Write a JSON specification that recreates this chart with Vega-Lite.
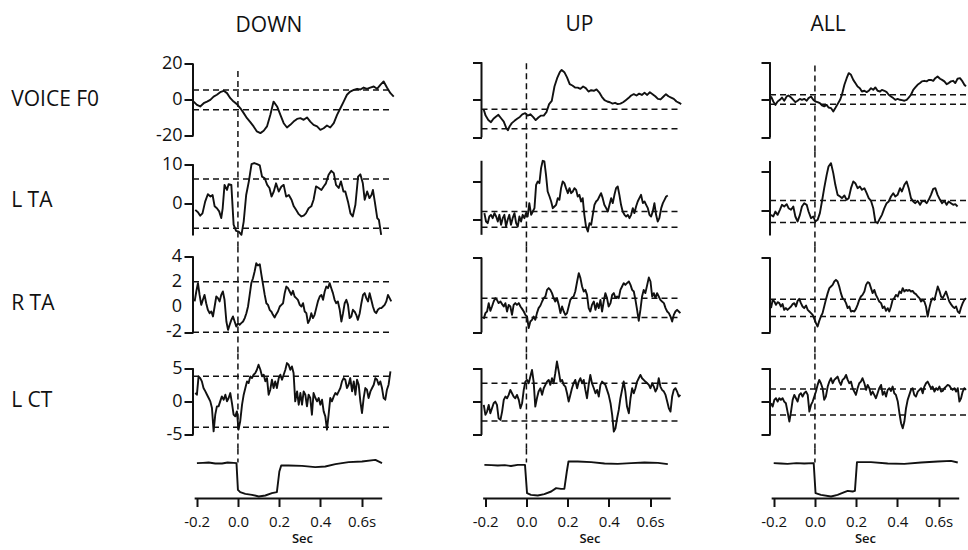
{
"$schema":"https://vega.github.io/schema/vega-lite/v6.json",
"padding":{"left":10,"top":13.5,"right":0,"bottom":0},
"background":"white",
"config":{
 "font":"Open Sans",
 "view":{"stroke":null},
 "axis":{"domain":false,"grid":false,"tickColor":"#111","tickWidth":2,"labelColor":"#111","titleColor":"#111","labelFont":"Open Sans","titleFont":"Open Sans","labelOverlap":false,"labelBound":false,"labelFlush":false},
 "axisY":{"tickSize":9,"labelFontSize":18,"labelPadding":2,"labelOverlap":false,"titleAngle":0,"titleAlign":"left","titleBaseline":"middle","titleX":-182.3,"titleFontSize":21,"titleFontWeight":"normal","labelExpr":"datum.value < 0 ? '-' + abs(datum.value) : '' + datum.value"},
 "axisX":{"tickSize":8,"labelFontSize":15,"labelPadding":8,"titleFontSize":13,"titleFontWeight":600,"titlePadding":3,"labelExpr":"datum.value == 0.6 ? '0.6s' : (datum.value < 0 ? '-' : '') + format(abs(datum.value), '.1f')"}
},
"datasets":{
"Df":[{"t":-0.215,"v":-1.0},{"t":-0.199,"v":-2.8},{"t":-0.183,"v":-3.7},{"t":-0.166,"v":-1.9},{"t":-0.15,"v":-1.0},{"t":-0.134,"v":0.0},{"t":-0.118,"v":1.8},{"t":-0.102,"v":2.8},{"t":-0.086,"v":4.2},{"t":-0.069,"v":5.0},{"t":-0.053,"v":3.7},{"t":-0.037,"v":0.9},{"t":-0.021,"v":-1.0},{"t":-0.005,"v":-2.4},{"t":0.012,"v":-4.7},{"t":0.028,"v":-7.4},{"t":0.044,"v":-10.2},{"t":0.06,"v":-12.4},{"t":0.076,"v":-14.8},{"t":0.092,"v":-17.6},{"t":0.109,"v":-18.5},{"t":0.125,"v":-17.2},{"t":0.141,"v":-14.8},{"t":0.157,"v":-8.4},{"t":0.173,"v":-1.0},{"t":0.19,"v":-3.7},{"t":0.206,"v":-8.4},{"t":0.222,"v":-13.0},{"t":0.238,"v":-15.4},{"t":0.254,"v":-13.9},{"t":0.27,"v":-12.1},{"t":0.287,"v":-10.6},{"t":0.303,"v":-10.2},{"t":0.319,"v":-11.1},{"t":0.335,"v":-9.8},{"t":0.351,"v":-12.1},{"t":0.367,"v":-13.9},{"t":0.384,"v":-14.8},{"t":0.4,"v":-16.7},{"t":0.416,"v":-15.8},{"t":0.432,"v":-14.3},{"t":0.448,"v":-15.4},{"t":0.465,"v":-13.0},{"t":0.481,"v":-8.4},{"t":0.497,"v":-4.7},{"t":0.513,"v":-1.0},{"t":0.529,"v":2.8},{"t":0.545,"v":4.6},{"t":0.562,"v":5.5},{"t":0.578,"v":6.1},{"t":0.594,"v":5.7},{"t":0.61,"v":6.8},{"t":0.626,"v":6.1},{"t":0.642,"v":6.8},{"t":0.659,"v":7.4},{"t":0.675,"v":6.1},{"t":0.691,"v":8.3},{"t":0.707,"v":10.2},{"t":0.723,"v":6.8},{"t":0.74,"v":3.7},{"t":0.756,"v":1.8}],
"Dl":[{"t":-0.207,"v":-1.7},{"t":-0.194,"v":-2.3},{"t":-0.183,"v":-3.2},{"t":-0.172,"v":-2.6},{"t":-0.159,"v":0.4},{"t":-0.146,"v":2.3},{"t":-0.133,"v":1.7},{"t":-0.123,"v":2.1},{"t":-0.113,"v":-0.8},{"t":-0.102,"v":-1.3},{"t":-0.091,"v":-2.1},{"t":-0.081,"v":-3.8},{"t":-0.074,"v":-1.3},{"t":-0.065,"v":4.7},{"t":-0.053,"v":3.4},{"t":-0.045,"v":4.9},{"t":-0.032,"v":4.7},{"t":-0.021,"v":-5.5},{"t":-0.009,"v":-7.1},{"t":0.004,"v":-7.3},{"t":0.017,"v":-8.1},{"t":0.028,"v":-4.7},{"t":0.04,"v":2.1},{"t":0.053,"v":5.6},{"t":0.066,"v":10.0},{"t":0.079,"v":10.3},{"t":0.093,"v":10.0},{"t":0.106,"v":9.7},{"t":0.117,"v":6.8},{"t":0.13,"v":6.4},{"t":0.142,"v":4.7},{"t":0.153,"v":3.9},{"t":0.163,"v":1.7},{"t":0.174,"v":3.0},{"t":0.185,"v":5.1},{"t":0.198,"v":3.0},{"t":0.211,"v":4.3},{"t":0.222,"v":4.7},{"t":0.234,"v":1.7},{"t":0.247,"v":2.1},{"t":0.26,"v":0.9},{"t":0.271,"v":-0.8},{"t":0.282,"v":-1.7},{"t":0.295,"v":-2.8},{"t":0.308,"v":-3.4},{"t":0.319,"v":-3.2},{"t":0.33,"v":-2.6},{"t":0.343,"v":-1.3},{"t":0.356,"v":-0.8},{"t":0.367,"v":0.9},{"t":0.379,"v":4.3},{"t":0.392,"v":3.9},{"t":0.405,"v":3.4},{"t":0.416,"v":4.3},{"t":0.427,"v":5.1},{"t":0.44,"v":7.3},{"t":0.453,"v":8.3},{"t":0.465,"v":7.7},{"t":0.476,"v":4.7},{"t":0.489,"v":3.9},{"t":0.5,"v":5.6},{"t":0.512,"v":3.0},{"t":0.521,"v":3.0},{"t":0.534,"v":0.4},{"t":0.546,"v":-2.6},{"t":0.557,"v":-3.4},{"t":0.57,"v":-0.4},{"t":0.583,"v":6.8},{"t":0.594,"v":7.4},{"t":0.606,"v":5.1},{"t":0.615,"v":0.9},{"t":0.627,"v":3.0},{"t":0.638,"v":1.3},{"t":0.648,"v":2.1},{"t":0.655,"v":3.4},{"t":0.664,"v":0.4},{"t":0.676,"v":-3.8},{"t":0.684,"v":-4.3},{"t":0.695,"v":-8.1}],
"Dr":[{"t":-0.21,"v":0.44},{"t":-0.202,"v":1.23},{"t":-0.194,"v":1.89},{"t":-0.186,"v":0.96},{"t":-0.178,"v":0.17},{"t":-0.17,"v":0.57},{"t":-0.162,"v":0.96},{"t":-0.154,"v":0.3},{"t":-0.146,"v":-0.22},{"t":-0.137,"v":-0.49},{"t":-0.129,"v":-0.36},{"t":-0.121,"v":-0.75},{"t":-0.113,"v":0.04},{"t":-0.105,"v":0.83},{"t":-0.097,"v":0.7},{"t":-0.089,"v":0.44},{"t":-0.081,"v":0.96},{"t":-0.073,"v":1.23},{"t":-0.065,"v":0.57},{"t":-0.056,"v":-1.15},{"t":-0.048,"v":-1.81},{"t":-0.04,"v":-1.41},{"t":-0.032,"v":-1.02},{"t":-0.024,"v":-0.75},{"t":-0.016,"v":-1.15},{"t":-0.008,"v":-1.55},{"t":0.0,"v":-1.28},{"t":0.008,"v":-1.41},{"t":0.016,"v":-1.28},{"t":0.025,"v":-1.15},{"t":0.033,"v":-0.88},{"t":0.041,"v":-0.49},{"t":0.049,"v":0.04},{"t":0.057,"v":0.96},{"t":0.065,"v":1.89},{"t":0.073,"v":2.28},{"t":0.081,"v":2.81},{"t":0.089,"v":3.47},{"t":0.097,"v":3.29},{"t":0.106,"v":3.39},{"t":0.114,"v":2.55},{"t":0.122,"v":1.76},{"t":0.13,"v":0.96},{"t":0.138,"v":0.3},{"t":0.146,"v":0.17},{"t":0.154,"v":-0.22},{"t":0.162,"v":-0.36},{"t":0.17,"v":-0.62},{"t":0.178,"v":-0.83},{"t":0.186,"v":-0.57},{"t":0.194,"v":-0.36},{"t":0.203,"v":0.04},{"t":0.211,"v":0.17},{"t":0.219,"v":0.3},{"t":0.227,"v":1.1},{"t":0.235,"v":1.62},{"t":0.243,"v":1.49},{"t":0.251,"v":1.23},{"t":0.259,"v":0.96},{"t":0.267,"v":1.28},{"t":0.275,"v":0.83},{"t":0.283,"v":0.7},{"t":0.291,"v":0.57},{"t":0.3,"v":0.17},{"t":0.308,"v":0.04},{"t":0.316,"v":0.3},{"t":0.324,"v":-0.36},{"t":0.332,"v":-0.49},{"t":0.34,"v":-1.28},{"t":0.348,"v":-1.02},{"t":0.356,"v":-0.49},{"t":0.364,"v":-0.88},{"t":0.372,"v":-0.62},{"t":0.38,"v":-0.09},{"t":0.388,"v":0.44},{"t":0.397,"v":0.83},{"t":0.405,"v":0.96},{"t":0.413,"v":0.57},{"t":0.421,"v":1.23},{"t":0.429,"v":1.62},{"t":0.437,"v":1.49},{"t":0.445,"v":1.89},{"t":0.453,"v":1.49},{"t":0.461,"v":1.1},{"t":0.469,"v":0.57},{"t":0.477,"v":0.3},{"t":0.485,"v":0.44},{"t":0.494,"v":-0.22},{"t":0.502,"v":-1.15},{"t":0.51,"v":-0.49},{"t":0.518,"v":0.3},{"t":0.526,"v":0.57},{"t":0.534,"v":0.17},{"t":0.542,"v":-0.88},{"t":0.55,"v":-0.75},{"t":0.558,"v":-0.22},{"t":0.566,"v":-0.36},{"t":0.574,"v":-0.62},{"t":0.582,"v":-1.02},{"t":0.591,"v":-0.49},{"t":0.599,"v":0.3},{"t":0.607,"v":0.96},{"t":0.615,"v":1.1},{"t":0.623,"v":0.7},{"t":0.631,"v":0.44},{"t":0.639,"v":1.1},{"t":0.647,"v":0.57},{"t":0.655,"v":0.04},{"t":0.663,"v":-0.36},{"t":0.671,"v":-0.49},{"t":0.679,"v":-0.22},{"t":0.688,"v":-0.09},{"t":0.696,"v":-0.09},{"t":0.704,"v":0.04},{"t":0.712,"v":0.17},{"t":0.72,"v":0.44},{"t":0.728,"v":0.96},{"t":0.736,"v":0.7},{"t":0.744,"v":0.44}],
"Dc":[{"t":-0.207,"v":1.27},{"t":-0.199,"v":1.02},{"t":-0.191,"v":3.77},{"t":-0.183,"v":3.52},{"t":-0.175,"v":3.02},{"t":-0.167,"v":2.02},{"t":-0.158,"v":1.52},{"t":-0.15,"v":1.02},{"t":-0.142,"v":0.52},{"t":-0.134,"v":0.02},{"t":-0.126,"v":-0.98},{"t":-0.118,"v":-4.48},{"t":-0.11,"v":-1.98},{"t":-0.102,"v":-0.73},{"t":-0.094,"v":-0.73},{"t":-0.086,"v":0.02},{"t":-0.078,"v":0.77},{"t":-0.069,"v":0.27},{"t":-0.061,"v":1.02},{"t":-0.053,"v":0.02},{"t":-0.045,"v":0.52},{"t":-0.037,"v":1.27},{"t":-0.029,"v":-0.23},{"t":-0.021,"v":-1.98},{"t":-0.013,"v":-2.23},{"t":-0.005,"v":-1.48},{"t":0.003,"v":-4.23},{"t":0.011,"v":-2.98},{"t":0.02,"v":-0.48},{"t":0.028,"v":1.02},{"t":0.036,"v":2.02},{"t":0.044,"v":3.02},{"t":0.052,"v":2.77},{"t":0.06,"v":3.77},{"t":0.068,"v":3.52},{"t":0.076,"v":4.02},{"t":0.084,"v":4.27},{"t":0.092,"v":4.77},{"t":0.1,"v":5.52},{"t":0.109,"v":4.77},{"t":0.117,"v":3.77},{"t":0.125,"v":4.02},{"t":0.133,"v":3.02},{"t":0.141,"v":3.52},{"t":0.149,"v":1.02},{"t":0.157,"v":1.77},{"t":0.165,"v":3.27},{"t":0.173,"v":2.02},{"t":0.181,"v":3.02},{"t":0.189,"v":2.02},{"t":0.198,"v":3.52},{"t":0.206,"v":4.02},{"t":0.214,"v":3.27},{"t":0.222,"v":4.02},{"t":0.23,"v":4.77},{"t":0.238,"v":5.77},{"t":0.246,"v":5.52},{"t":0.254,"v":4.77},{"t":0.262,"v":5.27},{"t":0.27,"v":4.27},{"t":0.278,"v":0.02},{"t":0.287,"v":1.52},{"t":0.295,"v":-0.48},{"t":0.303,"v":1.27},{"t":0.311,"v":-0.48},{"t":0.319,"v":1.52},{"t":0.327,"v":1.02},{"t":0.335,"v":-0.73},{"t":0.343,"v":1.02},{"t":0.351,"v":0.52},{"t":0.359,"v":-1.98},{"t":0.367,"v":1.27},{"t":0.376,"v":0.52},{"t":0.384,"v":0.02},{"t":0.392,"v":0.52},{"t":0.4,"v":-0.48},{"t":0.408,"v":0.27},{"t":0.416,"v":-1.48},{"t":0.424,"v":-2.23},{"t":0.432,"v":-4.23},{"t":0.44,"v":-1.98},{"t":0.448,"v":0.52},{"t":0.456,"v":0.02},{"t":0.465,"v":0.77},{"t":0.473,"v":1.27},{"t":0.481,"v":1.02},{"t":0.489,"v":1.52},{"t":0.497,"v":2.02},{"t":0.505,"v":3.02},{"t":0.513,"v":3.52},{"t":0.521,"v":3.27},{"t":0.529,"v":2.02},{"t":0.537,"v":2.52},{"t":0.545,"v":3.52},{"t":0.554,"v":1.52},{"t":0.562,"v":3.02},{"t":0.57,"v":1.02},{"t":0.578,"v":3.27},{"t":0.586,"v":2.52},{"t":0.594,"v":0.02},{"t":0.602,"v":-1.73},{"t":0.61,"v":0.52},{"t":0.618,"v":2.02},{"t":0.626,"v":1.77},{"t":0.634,"v":0.52},{"t":0.643,"v":1.52},{"t":0.651,"v":2.02},{"t":0.659,"v":2.52},{"t":0.667,"v":3.52},{"t":0.675,"v":3.27},{"t":0.683,"v":2.52},{"t":0.691,"v":3.02},{"t":0.699,"v":2.02},{"t":0.707,"v":0.52},{"t":0.715,"v":0.27},{"t":0.723,"v":1.77},{"t":0.731,"v":2.52},{"t":0.74,"v":4.52}],
"Ds":[{"t":-0.199,"v":0.707},{"t":-0.17,"v":0.713},{"t":-0.142,"v":0.72},{"t":-0.11,"v":0.7},{"t":-0.077,"v":0.7},{"t":-0.05,"v":0.72},{"t":-0.021,"v":0.713},{"t":-0.007,"v":0.707},{"t":0.0,"v":0.173},{"t":0.011,"v":0.127},{"t":0.036,"v":0.093},{"t":0.068,"v":0.073},{"t":0.101,"v":0.04},{"t":0.133,"v":0.06},{"t":0.165,"v":0.107},{"t":0.189,"v":0.127},{"t":0.201,"v":0.54},{"t":0.21,"v":0.66},{"t":0.246,"v":0.66},{"t":0.311,"v":0.653},{"t":0.375,"v":0.627},{"t":0.424,"v":0.64},{"t":0.473,"v":0.687},{"t":0.537,"v":0.727},{"t":0.602,"v":0.74},{"t":0.667,"v":0.773},{"t":0.699,"v":0.707}],
"Uf":[{"t":-0.207,"v":-5.3},{"t":-0.198,"v":-8.4},{"t":-0.185,"v":-10.7},{"t":-0.172,"v":-11.9},{"t":-0.16,"v":-10.1},{"t":-0.147,"v":-8.9},{"t":-0.136,"v":-8.0},{"t":-0.123,"v":-9.8},{"t":-0.11,"v":-11.6},{"t":-0.099,"v":-14.7},{"t":-0.09,"v":-16.2},{"t":-0.082,"v":-14.2},{"t":-0.071,"v":-12.4},{"t":-0.058,"v":-11.2},{"t":-0.045,"v":-10.1},{"t":-0.032,"v":-9.1},{"t":-0.02,"v":-7.7},{"t":-0.006,"v":-7.1},{"t":0.006,"v":-8.4},{"t":0.019,"v":-7.7},{"t":0.032,"v":-9.1},{"t":0.045,"v":-10.8},{"t":0.058,"v":-9.4},{"t":0.071,"v":-8.4},{"t":0.084,"v":-8.4},{"t":0.097,"v":-6.6},{"t":0.11,"v":-2.3},{"t":0.123,"v":-0.6},{"t":0.136,"v":7.1},{"t":0.149,"v":11.5},{"t":0.162,"v":14.7},{"t":0.171,"v":15.9},{"t":0.184,"v":14.7},{"t":0.197,"v":11.9},{"t":0.21,"v":8.3},{"t":0.223,"v":7.6},{"t":0.236,"v":6.5},{"t":0.249,"v":6.5},{"t":0.262,"v":5.8},{"t":0.275,"v":7.1},{"t":0.288,"v":6.2},{"t":0.301,"v":4.4},{"t":0.314,"v":5.1},{"t":0.327,"v":4.8},{"t":0.34,"v":5.5},{"t":0.353,"v":4.0},{"t":0.366,"v":1.6},{"t":0.379,"v":-0.2},{"t":0.392,"v":-0.9},{"t":0.405,"v":-1.3},{"t":0.418,"v":-2.0},{"t":0.43,"v":-1.6},{"t":0.443,"v":-2.3},{"t":0.456,"v":-2.0},{"t":0.469,"v":-1.3},{"t":0.482,"v":-0.2},{"t":0.495,"v":0.9},{"t":0.508,"v":2.3},{"t":0.521,"v":3.0},{"t":0.534,"v":2.3},{"t":0.547,"v":3.3},{"t":0.56,"v":2.6},{"t":0.573,"v":3.7},{"t":0.586,"v":2.6},{"t":0.599,"v":4.0},{"t":0.612,"v":3.0},{"t":0.625,"v":1.9},{"t":0.638,"v":0.5},{"t":0.651,"v":0.2},{"t":0.664,"v":1.6},{"t":0.677,"v":3.0},{"t":0.689,"v":1.9},{"t":0.702,"v":1.2},{"t":0.715,"v":0.5},{"t":0.728,"v":-0.9},{"t":0.741,"v":-1.6},{"t":0.751,"v":-2.3}],
"Ul":[{"t":-0.204,"v":1.61},{"t":-0.196,"v":-0.61},{"t":-0.188,"v":-1.05},{"t":-0.18,"v":0.72},{"t":-0.172,"v":1.16},{"t":-0.164,"v":0.28},{"t":-0.155,"v":1.61},{"t":-0.147,"v":0.72},{"t":-0.139,"v":-0.61},{"t":-0.131,"v":1.16},{"t":-0.123,"v":-1.49},{"t":-0.115,"v":0.28},{"t":-0.107,"v":1.16},{"t":-0.099,"v":-1.93},{"t":-0.091,"v":-0.16},{"t":-0.083,"v":1.16},{"t":-0.075,"v":-1.49},{"t":-0.067,"v":0.28},{"t":-0.058,"v":1.61},{"t":-0.05,"v":-1.05},{"t":-0.042,"v":-1.93},{"t":-0.034,"v":0.72},{"t":-0.026,"v":-0.61},{"t":-0.018,"v":1.16},{"t":-0.01,"v":0.28},{"t":-0.002,"v":1.61},{"t":0.006,"v":0.72},{"t":0.014,"v":4.26},{"t":0.023,"v":1.16},{"t":0.031,"v":2.05},{"t":0.039,"v":2.93},{"t":0.047,"v":9.12},{"t":0.055,"v":10.0},{"t":0.063,"v":9.56},{"t":0.071,"v":13.54},{"t":0.079,"v":15.49},{"t":0.087,"v":15.31},{"t":0.095,"v":11.77},{"t":0.103,"v":7.35},{"t":0.112,"v":6.03},{"t":0.12,"v":4.7},{"t":0.128,"v":2.93},{"t":0.136,"v":3.37},{"t":0.144,"v":3.82},{"t":0.152,"v":5.58},{"t":0.16,"v":5.14},{"t":0.168,"v":8.24},{"t":0.176,"v":10.0},{"t":0.184,"v":9.56},{"t":0.192,"v":8.24},{"t":0.201,"v":6.91},{"t":0.209,"v":8.24},{"t":0.217,"v":6.91},{"t":0.225,"v":7.35},{"t":0.233,"v":8.24},{"t":0.241,"v":7.79},{"t":0.249,"v":6.03},{"t":0.257,"v":6.47},{"t":0.265,"v":4.7},{"t":0.273,"v":5.58},{"t":0.281,"v":1.16},{"t":0.289,"v":-1.93},{"t":0.298,"v":-3.26},{"t":0.306,"v":-1.05},{"t":0.314,"v":-1.49},{"t":0.322,"v":1.16},{"t":0.33,"v":3.82},{"t":0.338,"v":4.7},{"t":0.346,"v":5.14},{"t":0.354,"v":6.03},{"t":0.362,"v":6.91},{"t":0.37,"v":5.58},{"t":0.378,"v":3.82},{"t":0.387,"v":2.93},{"t":0.395,"v":2.05},{"t":0.403,"v":3.82},{"t":0.411,"v":5.58},{"t":0.419,"v":4.26},{"t":0.427,"v":6.47},{"t":0.435,"v":8.24},{"t":0.443,"v":8.68},{"t":0.451,"v":6.47},{"t":0.459,"v":3.82},{"t":0.467,"v":2.05},{"t":0.476,"v":1.16},{"t":0.484,"v":0.72},{"t":0.492,"v":1.16},{"t":0.5,"v":0.28},{"t":0.508,"v":1.16},{"t":0.516,"v":2.93},{"t":0.524,"v":1.61},{"t":0.532,"v":3.37},{"t":0.54,"v":4.7},{"t":0.548,"v":5.58},{"t":0.556,"v":6.47},{"t":0.565,"v":4.26},{"t":0.573,"v":4.7},{"t":0.581,"v":3.82},{"t":0.589,"v":2.93},{"t":0.597,"v":1.16},{"t":0.605,"v":0.72},{"t":0.613,"v":2.05},{"t":0.621,"v":4.26},{"t":0.629,"v":1.16},{"t":0.637,"v":-0.61},{"t":0.645,"v":0.28},{"t":0.654,"v":2.93},{"t":0.662,"v":4.26},{"t":0.67,"v":5.14},{"t":0.678,"v":6.03},{"t":0.686,"v":6.29}],
"Ur":[{"t":-0.207,"v":-0.91},{"t":-0.199,"v":-0.45},{"t":-0.191,"v":-0.32},{"t":-0.183,"v":0.35},{"t":-0.175,"v":-0.27},{"t":-0.167,"v":0.08},{"t":-0.159,"v":0.48},{"t":-0.151,"v":0.75},{"t":-0.143,"v":0.61},{"t":-0.135,"v":0.35},{"t":-0.126,"v":0.48},{"t":-0.118,"v":0.27},{"t":-0.11,"v":0.08},{"t":-0.102,"v":0.35},{"t":-0.094,"v":-0.32},{"t":-0.086,"v":0.21},{"t":-0.078,"v":0.08},{"t":-0.07,"v":-0.59},{"t":-0.062,"v":0.21},{"t":-0.054,"v":0.35},{"t":-0.046,"v":0.21},{"t":-0.037,"v":0.35},{"t":-0.029,"v":0.08},{"t":-0.021,"v":-0.11},{"t":-0.013,"v":-0.32},{"t":-0.005,"v":-0.59},{"t":0.003,"v":-0.72},{"t":0.011,"v":-1.65},{"t":0.019,"v":-1.12},{"t":0.027,"v":-0.99},{"t":0.035,"v":-0.72},{"t":0.043,"v":-0.99},{"t":0.051,"v":-0.45},{"t":0.059,"v":-0.05},{"t":0.068,"v":0.16},{"t":0.076,"v":0.48},{"t":0.084,"v":0.75},{"t":0.092,"v":0.88},{"t":0.1,"v":1.41},{"t":0.108,"v":1.55},{"t":0.116,"v":1.41},{"t":0.124,"v":1.15},{"t":0.132,"v":0.75},{"t":0.14,"v":0.48},{"t":0.148,"v":0.75},{"t":0.157,"v":0.21},{"t":0.165,"v":-0.45},{"t":0.173,"v":0.08},{"t":0.181,"v":-0.32},{"t":0.189,"v":-0.59},{"t":0.197,"v":-0.45},{"t":0.205,"v":0.08},{"t":0.213,"v":0.61},{"t":0.221,"v":0.8},{"t":0.229,"v":0.88},{"t":0.237,"v":1.28},{"t":0.246,"v":2.08},{"t":0.254,"v":2.75},{"t":0.262,"v":2.35},{"t":0.27,"v":1.68},{"t":0.278,"v":1.28},{"t":0.286,"v":1.41},{"t":0.294,"v":1.01},{"t":0.302,"v":-0.05},{"t":0.31,"v":-0.32},{"t":0.318,"v":0.21},{"t":0.327,"v":0.48},{"t":0.335,"v":-0.19},{"t":0.343,"v":0.35},{"t":0.351,"v":-0.05},{"t":0.359,"v":0.61},{"t":0.367,"v":-0.32},{"t":0.375,"v":0.48},{"t":0.383,"v":1.15},{"t":0.391,"v":0.75},{"t":0.399,"v":0.08},{"t":0.408,"v":0.35},{"t":0.416,"v":1.01},{"t":0.424,"v":1.15},{"t":0.432,"v":0.75},{"t":0.44,"v":0.88},{"t":0.448,"v":0.75},{"t":0.456,"v":1.41},{"t":0.464,"v":1.68},{"t":0.472,"v":1.95},{"t":0.48,"v":1.81},{"t":0.488,"v":1.95},{"t":0.497,"v":2.08},{"t":0.505,"v":1.81},{"t":0.513,"v":1.41},{"t":0.521,"v":1.28},{"t":0.529,"v":0.61},{"t":0.537,"v":-0.19},{"t":0.545,"v":-1.07},{"t":0.553,"v":-0.19},{"t":0.561,"v":0.88},{"t":0.569,"v":1.41},{"t":0.577,"v":1.15},{"t":0.586,"v":1.81},{"t":0.594,"v":2.4},{"t":0.602,"v":2.08},{"t":0.61,"v":0.88},{"t":0.618,"v":1.15},{"t":0.626,"v":0.75},{"t":0.634,"v":1.15},{"t":0.642,"v":0.88},{"t":0.65,"v":0.61},{"t":0.658,"v":0.48},{"t":0.667,"v":0.35},{"t":0.675,"v":-0.05},{"t":0.683,"v":-0.32},{"t":0.691,"v":-0.45},{"t":0.699,"v":-0.72},{"t":0.707,"v":-1.12},{"t":0.715,"v":-0.59},{"t":0.723,"v":-0.32},{"t":0.731,"v":-0.19},{"t":0.739,"v":-0.32},{"t":0.747,"v":-0.45}],
"Uc":[{"t":-0.207,"v":-0.51},{"t":-0.199,"v":-2.01},{"t":-0.191,"v":-1.51},{"t":-0.183,"v":-0.51},{"t":-0.175,"v":-1.76},{"t":-0.167,"v":-1.01},{"t":-0.159,"v":-0.26},{"t":-0.151,"v":-0.01},{"t":-0.143,"v":-0.51},{"t":-0.135,"v":-2.51},{"t":-0.126,"v":-2.76},{"t":-0.118,"v":-1.51},{"t":-0.11,"v":0.24},{"t":-0.102,"v":0.74},{"t":-0.094,"v":0.49},{"t":-0.086,"v":0.99},{"t":-0.078,"v":1.74},{"t":-0.07,"v":1.24},{"t":-0.062,"v":0.74},{"t":-0.054,"v":0.49},{"t":-0.046,"v":0.99},{"t":-0.037,"v":0.24},{"t":-0.029,"v":-1.01},{"t":-0.021,"v":-0.26},{"t":-0.013,"v":1.74},{"t":-0.005,"v":2.99},{"t":0.003,"v":3.24},{"t":0.011,"v":2.74},{"t":0.019,"v":3.74},{"t":0.027,"v":4.74},{"t":0.035,"v":2.99},{"t":0.043,"v":-0.76},{"t":0.051,"v":0.49},{"t":0.059,"v":1.49},{"t":0.068,"v":1.99},{"t":0.076,"v":0.99},{"t":0.084,"v":1.99},{"t":0.092,"v":2.49},{"t":0.1,"v":2.99},{"t":0.108,"v":3.24},{"t":0.116,"v":2.49},{"t":0.124,"v":3.49},{"t":0.132,"v":2.74},{"t":0.14,"v":4.24},{"t":0.148,"v":5.99},{"t":0.157,"v":4.49},{"t":0.165,"v":2.99},{"t":0.173,"v":3.24},{"t":0.181,"v":2.49},{"t":0.189,"v":2.24},{"t":0.197,"v":1.24},{"t":0.205,"v":-0.01},{"t":0.213,"v":0.99},{"t":0.221,"v":1.99},{"t":0.229,"v":2.74},{"t":0.237,"v":3.24},{"t":0.246,"v":1.99},{"t":0.254,"v":2.99},{"t":0.262,"v":3.49},{"t":0.27,"v":2.74},{"t":0.278,"v":3.24},{"t":0.286,"v":1.74},{"t":0.294,"v":0.49},{"t":0.302,"v":2.49},{"t":0.31,"v":3.99},{"t":0.318,"v":2.74},{"t":0.327,"v":1.99},{"t":0.335,"v":1.24},{"t":0.343,"v":1.74},{"t":0.351,"v":0.74},{"t":0.359,"v":2.49},{"t":0.367,"v":2.99},{"t":0.375,"v":2.74},{"t":0.383,"v":2.49},{"t":0.391,"v":1.74},{"t":0.399,"v":0.99},{"t":0.408,"v":-0.26},{"t":0.416,"v":-2.01},{"t":0.424,"v":-4.51},{"t":0.432,"v":-4.01},{"t":0.44,"v":-2.51},{"t":0.448,"v":-1.26},{"t":0.456,"v":0.49},{"t":0.464,"v":1.74},{"t":0.472,"v":2.99},{"t":0.48,"v":1.49},{"t":0.488,"v":-0.76},{"t":0.497,"v":-1.76},{"t":0.505,"v":0.49},{"t":0.513,"v":1.99},{"t":0.521,"v":1.24},{"t":0.529,"v":1.99},{"t":0.537,"v":2.99},{"t":0.545,"v":3.49},{"t":0.553,"v":3.99},{"t":0.561,"v":3.49},{"t":0.569,"v":3.24},{"t":0.577,"v":2.99},{"t":0.586,"v":2.74},{"t":0.594,"v":2.49},{"t":0.602,"v":1.99},{"t":0.61,"v":2.74},{"t":0.618,"v":2.24},{"t":0.626,"v":1.49},{"t":0.634,"v":1.99},{"t":0.642,"v":3.49},{"t":0.65,"v":2.24},{"t":0.658,"v":1.74},{"t":0.667,"v":1.49},{"t":0.675,"v":0.99},{"t":0.683,"v":-0.01},{"t":0.691,"v":-1.01},{"t":0.699,"v":-1.51},{"t":0.707,"v":0.74},{"t":0.715,"v":1.74},{"t":0.723,"v":1.99},{"t":0.731,"v":1.49},{"t":0.739,"v":0.74},{"t":0.747,"v":0.99}],
"Us":[{"t":-0.204,"v":0.673},{"t":-0.17,"v":0.667},{"t":-0.139,"v":0.66},{"t":-0.105,"v":0.667},{"t":-0.075,"v":0.65},{"t":-0.042,"v":0.673},{"t":-0.007,"v":0.673},{"t":0.003,"v":0.107},{"t":0.022,"v":0.073},{"t":0.055,"v":0.06},{"t":0.087,"v":0.087},{"t":0.12,"v":0.14},{"t":0.144,"v":0.207},{"t":0.168,"v":0.193},{"t":0.184,"v":0.193},{"t":0.196,"v":0.54},{"t":0.204,"v":0.74},{"t":0.249,"v":0.74},{"t":0.314,"v":0.727},{"t":0.379,"v":0.7},{"t":0.443,"v":0.693},{"t":0.508,"v":0.707},{"t":0.573,"v":0.72},{"t":0.638,"v":0.713},{"t":0.686,"v":0.687}],
"Af":[{"t":-0.213,"v":1.8},{"t":-0.202,"v":-0.9},{"t":-0.192,"v":-2.7},{"t":-0.181,"v":-0.9},{"t":-0.17,"v":0.0},{"t":-0.16,"v":1.2},{"t":-0.149,"v":-0.5},{"t":-0.137,"v":1.8},{"t":-0.128,"v":2.3},{"t":-0.116,"v":1.2},{"t":-0.105,"v":0.0},{"t":-0.095,"v":-1.2},{"t":-0.084,"v":-0.5},{"t":-0.073,"v":0.5},{"t":-0.063,"v":0.0},{"t":-0.052,"v":0.5},{"t":-0.04,"v":-0.5},{"t":-0.031,"v":0.9},{"t":-0.019,"v":1.8},{"t":-0.008,"v":0.0},{"t":0.002,"v":-0.9},{"t":0.013,"v":-1.2},{"t":0.024,"v":-1.8},{"t":0.034,"v":-3.0},{"t":0.045,"v":-3.5},{"t":0.057,"v":-2.7},{"t":0.066,"v":-4.1},{"t":0.078,"v":-4.4},{"t":0.089,"v":-6.2},{"t":0.099,"v":-4.4},{"t":0.11,"v":-2.3},{"t":0.122,"v":0.0},{"t":0.131,"v":2.7},{"t":0.143,"v":8.0},{"t":0.154,"v":11.5},{"t":0.164,"v":14.2},{"t":0.175,"v":13.3},{"t":0.186,"v":10.6},{"t":0.196,"v":8.9},{"t":0.207,"v":7.1},{"t":0.218,"v":6.2},{"t":0.228,"v":4.4},{"t":0.24,"v":4.8},{"t":0.251,"v":4.1},{"t":0.261,"v":4.8},{"t":0.272,"v":6.2},{"t":0.283,"v":5.3},{"t":0.293,"v":6.6},{"t":0.304,"v":4.8},{"t":0.316,"v":4.4},{"t":0.325,"v":5.3},{"t":0.337,"v":4.8},{"t":0.348,"v":4.1},{"t":0.358,"v":2.7},{"t":0.369,"v":1.8},{"t":0.38,"v":0.9},{"t":0.39,"v":0.0},{"t":0.401,"v":0.5},{"t":0.413,"v":0.0},{"t":0.422,"v":-0.2},{"t":0.434,"v":-0.5},{"t":0.445,"v":0.0},{"t":0.455,"v":1.2},{"t":0.466,"v":2.7},{"t":0.477,"v":5.3},{"t":0.487,"v":6.6},{"t":0.498,"v":8.0},{"t":0.51,"v":8.9},{"t":0.519,"v":9.8},{"t":0.531,"v":10.1},{"t":0.542,"v":9.8},{"t":0.552,"v":10.5},{"t":0.563,"v":10.6},{"t":0.574,"v":10.1},{"t":0.584,"v":11.5},{"t":0.595,"v":12.4},{"t":0.607,"v":11.2},{"t":0.617,"v":10.6},{"t":0.628,"v":9.8},{"t":0.639,"v":8.3},{"t":0.649,"v":8.9},{"t":0.66,"v":9.8},{"t":0.671,"v":10.1},{"t":0.681,"v":8.9},{"t":0.692,"v":11.2},{"t":0.704,"v":11.5},{"t":0.714,"v":10.1},{"t":0.725,"v":8.0},{"t":0.733,"v":7.1}],
"Al":[{"t":-0.213,"v":-1.03},{"t":-0.202,"v":-1.45},{"t":-0.192,"v":-0.18},{"t":-0.181,"v":-1.03},{"t":-0.17,"v":0.25},{"t":-0.16,"v":1.52},{"t":-0.149,"v":1.1},{"t":-0.137,"v":1.69},{"t":-0.128,"v":0.67},{"t":-0.116,"v":0.25},{"t":-0.105,"v":1.1},{"t":-0.095,"v":-1.45},{"t":-0.084,"v":-2.72},{"t":-0.073,"v":-1.03},{"t":-0.063,"v":1.1},{"t":-0.052,"v":1.94},{"t":-0.04,"v":1.52},{"t":-0.031,"v":-0.18},{"t":-0.019,"v":-1.87},{"t":-0.008,"v":-1.45},{"t":0.002,"v":-2.72},{"t":0.013,"v":-2.3},{"t":0.024,"v":-0.6},{"t":0.034,"v":2.37},{"t":0.045,"v":5.76},{"t":0.057,"v":9.15},{"t":0.066,"v":11.27},{"t":0.078,"v":12.12},{"t":0.089,"v":9.58},{"t":0.099,"v":6.61},{"t":0.11,"v":4.06},{"t":0.122,"v":3.64},{"t":0.131,"v":3.22},{"t":0.143,"v":3.89},{"t":0.154,"v":2.79},{"t":0.164,"v":3.22},{"t":0.175,"v":5.76},{"t":0.186,"v":7.46},{"t":0.196,"v":7.03},{"t":0.207,"v":5.76},{"t":0.218,"v":6.19},{"t":0.228,"v":5.34},{"t":0.24,"v":5.76},{"t":0.251,"v":4.49},{"t":0.261,"v":3.22},{"t":0.272,"v":2.54},{"t":0.283,"v":0.67},{"t":0.293,"v":-2.72},{"t":0.304,"v":-3.14},{"t":0.316,"v":-1.87},{"t":0.325,"v":-1.03},{"t":0.337,"v":0.67},{"t":0.348,"v":1.94},{"t":0.358,"v":2.37},{"t":0.369,"v":3.64},{"t":0.38,"v":4.49},{"t":0.39,"v":3.64},{"t":0.401,"v":4.06},{"t":0.413,"v":5.76},{"t":0.422,"v":4.91},{"t":0.434,"v":6.61},{"t":0.445,"v":7.46},{"t":0.455,"v":5.76},{"t":0.466,"v":3.22},{"t":0.477,"v":2.37},{"t":0.487,"v":1.94},{"t":0.498,"v":2.54},{"t":0.51,"v":1.52},{"t":0.519,"v":2.37},{"t":0.531,"v":2.54},{"t":0.542,"v":1.94},{"t":0.552,"v":2.79},{"t":0.563,"v":4.06},{"t":0.574,"v":5.59},{"t":0.584,"v":5.76},{"t":0.595,"v":4.06},{"t":0.607,"v":2.79},{"t":0.617,"v":1.94},{"t":0.628,"v":2.54},{"t":0.639,"v":1.52},{"t":0.649,"v":2.37},{"t":0.66,"v":1.94},{"t":0.671,"v":1.52},{"t":0.681,"v":1.69},{"t":0.692,"v":1.1}],
"Ar":[{"t":-0.213,"v":-0.05},{"t":-0.205,"v":0.61},{"t":-0.197,"v":0.48},{"t":-0.189,"v":0.21},{"t":-0.181,"v":0.43},{"t":-0.173,"v":0.35},{"t":-0.165,"v":0.08},{"t":-0.157,"v":0.27},{"t":-0.149,"v":-0.19},{"t":-0.141,"v":-0.05},{"t":-0.133,"v":-0.19},{"t":-0.124,"v":-0.05},{"t":-0.116,"v":0.08},{"t":-0.108,"v":0.27},{"t":-0.1,"v":0.35},{"t":-0.092,"v":0.08},{"t":-0.084,"v":0.53},{"t":-0.076,"v":0.69},{"t":-0.068,"v":0.35},{"t":-0.06,"v":0.08},{"t":-0.052,"v":-0.05},{"t":-0.043,"v":0.16},{"t":-0.035,"v":-0.19},{"t":-0.027,"v":-0.32},{"t":-0.019,"v":-0.45},{"t":-0.011,"v":-0.59},{"t":-0.003,"v":-0.91},{"t":0.005,"v":-1.25},{"t":0.013,"v":-1.52},{"t":0.021,"v":-1.07},{"t":0.029,"v":-0.72},{"t":0.037,"v":-0.45},{"t":0.045,"v":0.08},{"t":0.053,"v":0.61},{"t":0.062,"v":1.15},{"t":0.07,"v":1.55},{"t":0.078,"v":1.68},{"t":0.086,"v":1.81},{"t":0.094,"v":2.08},{"t":0.102,"v":2.21},{"t":0.11,"v":2.08},{"t":0.118,"v":1.68},{"t":0.126,"v":1.15},{"t":0.134,"v":0.75},{"t":0.143,"v":0.61},{"t":0.151,"v":0.35},{"t":0.159,"v":-0.05},{"t":0.167,"v":0.08},{"t":0.175,"v":-0.32},{"t":0.183,"v":-0.27},{"t":0.191,"v":-0.32},{"t":0.199,"v":-0.11},{"t":0.207,"v":0.21},{"t":0.215,"v":0.61},{"t":0.223,"v":0.88},{"t":0.231,"v":1.01},{"t":0.24,"v":1.28},{"t":0.248,"v":1.81},{"t":0.256,"v":2.03},{"t":0.264,"v":1.95},{"t":0.272,"v":1.55},{"t":0.28,"v":1.15},{"t":0.288,"v":1.41},{"t":0.296,"v":1.01},{"t":0.304,"v":0.75},{"t":0.312,"v":0.48},{"t":0.321,"v":0.35},{"t":0.329,"v":-0.05},{"t":0.337,"v":0.08},{"t":0.345,"v":-0.27},{"t":0.353,"v":-0.05},{"t":0.361,"v":-0.32},{"t":0.369,"v":0.08},{"t":0.377,"v":0.61},{"t":0.385,"v":0.75},{"t":0.393,"v":1.01},{"t":0.402,"v":0.88},{"t":0.41,"v":1.28},{"t":0.418,"v":1.15},{"t":0.426,"v":1.55},{"t":0.434,"v":1.28},{"t":0.442,"v":1.41},{"t":0.45,"v":1.33},{"t":0.458,"v":1.41},{"t":0.466,"v":1.28},{"t":0.474,"v":1.33},{"t":0.482,"v":1.15},{"t":0.49,"v":1.07},{"t":0.499,"v":0.88},{"t":0.507,"v":0.75},{"t":0.515,"v":0.48},{"t":0.523,"v":0.61},{"t":0.531,"v":0.48},{"t":0.539,"v":0.08},{"t":0.547,"v":-0.72},{"t":0.555,"v":-0.05},{"t":0.563,"v":0.48},{"t":0.571,"v":0.75},{"t":0.58,"v":0.61},{"t":0.588,"v":1.15},{"t":0.596,"v":1.68},{"t":0.604,"v":1.33},{"t":0.612,"v":0.88},{"t":0.62,"v":0.75},{"t":0.628,"v":1.01},{"t":0.636,"v":1.28},{"t":0.644,"v":0.88},{"t":0.652,"v":0.48},{"t":0.66,"v":0.27},{"t":0.668,"v":0.08},{"t":0.677,"v":-0.05},{"t":0.685,"v":0.08},{"t":0.693,"v":-0.32},{"t":0.701,"v":-0.45},{"t":0.709,"v":0.0},{"t":0.717,"v":0.35},{"t":0.725,"v":0.61},{"t":0.733,"v":0.75}],
"Ac":[{"t":-0.213,"v":-0.26},{"t":-0.205,"v":-0.76},{"t":-0.197,"v":0.24},{"t":-0.189,"v":0.49},{"t":-0.181,"v":-0.01},{"t":-0.173,"v":0.49},{"t":-0.165,"v":0.24},{"t":-0.157,"v":0.49},{"t":-0.149,"v":-0.01},{"t":-0.141,"v":-0.26},{"t":-0.133,"v":-1.51},{"t":-0.124,"v":-3.01},{"t":-0.116,"v":-1.51},{"t":-0.108,"v":0.24},{"t":-0.1,"v":0.99},{"t":-0.092,"v":0.49},{"t":-0.084,"v":-0.01},{"t":-0.076,"v":0.99},{"t":-0.068,"v":1.24},{"t":-0.06,"v":0.74},{"t":-0.052,"v":1.24},{"t":-0.043,"v":1.49},{"t":-0.035,"v":0.99},{"t":-0.027,"v":-1.51},{"t":-0.019,"v":-0.51},{"t":-0.011,"v":-0.01},{"t":-0.003,"v":0.74},{"t":0.005,"v":1.49},{"t":0.013,"v":2.49},{"t":0.021,"v":3.24},{"t":0.029,"v":2.74},{"t":0.037,"v":1.99},{"t":0.045,"v":0.24},{"t":0.053,"v":0.74},{"t":0.062,"v":2.24},{"t":0.07,"v":2.99},{"t":0.078,"v":3.49},{"t":0.086,"v":2.74},{"t":0.094,"v":3.24},{"t":0.102,"v":3.49},{"t":0.11,"v":3.74},{"t":0.118,"v":2.99},{"t":0.126,"v":2.49},{"t":0.134,"v":3.24},{"t":0.143,"v":3.49},{"t":0.151,"v":3.99},{"t":0.159,"v":3.24},{"t":0.167,"v":2.74},{"t":0.175,"v":2.99},{"t":0.183,"v":1.99},{"t":0.191,"v":1.49},{"t":0.199,"v":0.99},{"t":0.207,"v":1.99},{"t":0.215,"v":2.74},{"t":0.223,"v":2.99},{"t":0.231,"v":3.49},{"t":0.24,"v":2.74},{"t":0.248,"v":1.74},{"t":0.256,"v":2.49},{"t":0.264,"v":1.99},{"t":0.272,"v":0.99},{"t":0.28,"v":1.49},{"t":0.288,"v":0.99},{"t":0.296,"v":0.49},{"t":0.304,"v":1.24},{"t":0.312,"v":1.99},{"t":0.321,"v":2.49},{"t":0.329,"v":0.99},{"t":0.337,"v":1.49},{"t":0.345,"v":0.74},{"t":0.353,"v":1.74},{"t":0.361,"v":1.99},{"t":0.369,"v":1.59},{"t":0.377,"v":2.24},{"t":0.385,"v":1.24},{"t":0.393,"v":0.99},{"t":0.402,"v":-0.01},{"t":0.41,"v":-1.76},{"t":0.418,"v":-3.26},{"t":0.426,"v":-4.01},{"t":0.434,"v":-3.01},{"t":0.442,"v":-1.01},{"t":0.45,"v":0.24},{"t":0.458,"v":0.99},{"t":0.466,"v":1.74},{"t":0.474,"v":1.99},{"t":0.482,"v":0.99},{"t":0.49,"v":0.74},{"t":0.499,"v":1.49},{"t":0.507,"v":1.74},{"t":0.515,"v":1.99},{"t":0.523,"v":1.24},{"t":0.531,"v":2.24},{"t":0.539,"v":2.74},{"t":0.547,"v":2.99},{"t":0.555,"v":2.49},{"t":0.563,"v":1.99},{"t":0.571,"v":2.24},{"t":0.58,"v":1.49},{"t":0.588,"v":1.99},{"t":0.596,"v":1.74},{"t":0.604,"v":2.24},{"t":0.612,"v":1.49},{"t":0.62,"v":1.59},{"t":0.628,"v":1.99},{"t":0.636,"v":2.24},{"t":0.644,"v":2.49},{"t":0.652,"v":2.39},{"t":0.66,"v":1.99},{"t":0.668,"v":1.74},{"t":0.677,"v":1.99},{"t":0.685,"v":1.49},{"t":0.693,"v":1.99},{"t":0.701,"v":-0.01},{"t":0.709,"v":0.49},{"t":0.717,"v":1.49},{"t":0.725,"v":1.99},{"t":0.733,"v":1.74}],
"As":[{"t":-0.2,"v":0.707},{"t":-0.165,"v":0.7},{"t":-0.133,"v":0.693},{"t":-0.09,"v":0.707},{"t":-0.052,"v":0.7},{"t":-0.006,"v":0.707},{"t":0.003,"v":0.107},{"t":0.029,"v":0.073},{"t":0.078,"v":0.04},{"t":0.11,"v":0.073},{"t":0.143,"v":0.127},{"t":0.159,"v":0.153},{"t":0.183,"v":0.14},{"t":0.194,"v":0.153},{"t":0.204,"v":0.727},{"t":0.272,"v":0.727},{"t":0.353,"v":0.7},{"t":0.434,"v":0.693},{"t":0.515,"v":0.72},{"t":0.596,"v":0.74},{"t":0.66,"v":0.753},{"t":0.693,"v":0.72}]
},
"columns":3,
"spacing":{"row":0,"column":92.5},
"bounds":"flush",
"concat":[
{"width":196,"height":92,
 "title":{"text":"DOWN","fontSize":21,"fontWeight":"normal","color":"#111","anchor":"middle","frame":"group","baseline":"alphabetic","offset":2,"dx":-22},
 "layer":[
  {"data":{"name":"Df"},"mark":{"type":"line","color":"#111","strokeWidth":1.9,"strokeJoin":"round"},
   "encoding":{"x":{"field":"t","type":"quantitative","scale":{"domain":[-0.218,0.733],"nice":false,"zero":false},"axis":null},
   "y":{"field":"v","type":"quantitative","scale":{"domain":[-28.72,22.39],"nice":false,"zero":false},"axis":{"values":[20,0,-20],"labelOverlap":false,"title":"VOICE F0","titleY":40}}}},
  {"data":{"values":[{"v":5.5},{"v":-5.5}]},"mark":{"type":"rule","color":"#111","strokeWidth":1.5,"strokeDash":[6,4]},"encoding":{"y":{"field":"v","type":"quantitative"}}},
  {"data":{"values":[{}]},"mark":{"type":"rule","color":"#111","strokeWidth":1.5,"strokeDash":[6,4]},"encoding":{"x":{"datum":0,"type":"quantitative"},"y":{"datum":16,"type":"quantitative"},"y2":{"datum":-28.72}}},
  {"data":{"values":[{}]},"mark":{"type":"rule","color":"#111","strokeWidth":2},"encoding":{"x":{"datum":-0.218,"type":"quantitative"},"y":{"datum":20,"type":"quantitative"},"y2":{"datum":-20}}}
 ]},
{"width":196,"height":92,
 "title":{"text":"UP","fontSize":21,"fontWeight":"normal","color":"#111","anchor":"middle","frame":"group","baseline":"alphabetic","offset":8,"dx":0},
 "layer":[
  {"data":{"name":"Uf"},"mark":{"type":"line","color":"#111","strokeWidth":1.9,"strokeJoin":"round"},
   "encoding":{"x":{"field":"t","type":"quantitative","scale":{"domain":[-0.218,0.733],"nice":false,"zero":false},"axis":null},
   "y":{"field":"v","type":"quantitative","scale":{"domain":[-27.5,21.44],"nice":false,"zero":false},"axis":{"values":[20,10,0,-10,-20],"labels":false,"title":null}}}},
  {"data":{"values":[{"v":-5.0},{"v":-15.4}]},"mark":{"type":"rule","color":"#111","strokeWidth":1.5,"strokeDash":[6,4]},"encoding":{"y":{"field":"v","type":"quantitative"}}},
  {"data":{"values":[{}]},"mark":{"type":"rule","color":"#111","strokeWidth":1.5,"strokeDash":[6,4]},"encoding":{"x":{"datum":0,"type":"quantitative"},"y":{"datum":19.5,"type":"quantitative"},"y2":{"datum":-27.5}}},
  {"data":{"values":[{}]},"mark":{"type":"rule","color":"#111","strokeWidth":2},"encoding":{"x":{"datum":-0.218,"type":"quantitative"},"y":{"datum":20,"type":"quantitative"},"y2":{"datum":-20}}}
 ]},
{"width":196,"height":92,
 "title":{"text":"ALL","fontSize":21,"fontWeight":"normal","color":"#111","anchor":"middle","frame":"group","baseline":"alphabetic","offset":8,"dx":-40},
 "layer":[
  {"data":{"name":"Af"},"mark":{"type":"line","color":"#111","strokeWidth":1.9,"strokeJoin":"round"},
   "encoding":{"x":{"field":"t","type":"quantitative","scale":{"domain":[-0.218,0.733],"nice":false,"zero":false},"axis":null},
   "y":{"field":"v","type":"quantitative","scale":{"domain":[-27.5,21.44],"nice":false,"zero":false},"axis":{"values":[20,10,0,-10,-20],"labels":false,"title":null}}}},
  {"data":{"values":[{"v":2.66},{"v":-2.3}]},"mark":{"type":"rule","color":"#111","strokeWidth":1.5,"strokeDash":[6,4]},"encoding":{"y":{"field":"v","type":"quantitative"}}},
  {"data":{"values":[{}]},"mark":{"type":"rule","color":"#111","strokeWidth":1.5,"strokeDash":[6,4]},"encoding":{"x":{"datum":0,"type":"quantitative"},"y":{"datum":18.2,"type":"quantitative"},"y2":{"datum":-27.5}}},
  {"data":{"values":[{}]},"mark":{"type":"rule","color":"#111","strokeWidth":2},"encoding":{"x":{"datum":-0.218,"type":"quantitative"},"y":{"datum":20,"type":"quantitative"},"y2":{"datum":-20}}}
 ]},
{"width":196,"height":95,
 "layer":[
  {"data":{"name":"Dl"},"mark":{"type":"line","color":"#111","strokeWidth":1.9,"strokeJoin":"round"},
   "encoding":{"x":{"field":"t","type":"quantitative","scale":{"domain":[-0.218,0.733],"nice":false,"zero":false},"axis":null},
   "y":{"field":"v","type":"quantitative","scale":{"domain":[-11.1,13.26],"nice":false,"zero":false},"axis":{"values":[10,0],"labelOverlap":false,"title":"L TA","titleY":49}}}},
  {"data":{"values":[{"v":6.2},{"v":-6.4}]},"mark":{"type":"rule","color":"#111","strokeWidth":1.5,"strokeDash":[6,4]},"encoding":{"y":{"field":"v","type":"quantitative"}}},
  {"data":{"values":[{}]},"mark":{"type":"rule","color":"#111","strokeWidth":1.5,"strokeDash":[6,4]},"encoding":{"x":{"datum":0,"type":"quantitative"}}},
  {"data":{"values":[{}]},"mark":{"type":"rule","color":"#111","strokeWidth":2},"encoding":{"x":{"datum":-0.218,"type":"quantitative"},"y":{"datum":10,"type":"quantitative"},"y2":{"datum":-8.3}}}
 ]},
{"width":196,"height":95,
 "layer":[
  {"data":{"name":"Ul"},"mark":{"type":"line","color":"#111","strokeWidth":1.9,"strokeJoin":"round"},
   "encoding":{"x":{"field":"t","type":"quantitative","scale":{"domain":[-0.218,0.733],"nice":false,"zero":false},"axis":null},
   "y":{"field":"v","type":"quantitative","scale":{"domain":[-7.24,17.96],"nice":false,"zero":false},"axis":{"values":[10,0],"labels":false,"title":null}}}},
  {"data":{"values":[{"v":2.05},{"v":-2.11}]},"mark":{"type":"rule","color":"#111","strokeWidth":1.5,"strokeDash":[6,4]},"encoding":{"y":{"field":"v","type":"quantitative"}}},
  {"data":{"values":[{}]},"mark":{"type":"rule","color":"#111","strokeWidth":1.5,"strokeDash":[6,4]},"encoding":{"x":{"datum":0,"type":"quantitative"}}},
  {"data":{"values":[{}]},"mark":{"type":"rule","color":"#111","strokeWidth":2},"encoding":{"x":{"datum":-0.218,"type":"quantitative"},"y":{"datum":15.5,"type":"quantitative"},"y2":{"datum":-4.14}}}
 ]},
{"width":196,"height":95,
 "layer":[
  {"data":{"name":"Al"},"mark":{"type":"line","color":"#111","strokeWidth":1.9,"strokeJoin":"round"},
   "encoding":{"x":{"field":"t","type":"quantitative","scale":{"domain":[-0.218,0.733],"nice":false,"zero":false},"axis":null},
   "y":{"field":"v","type":"quantitative","scale":{"domain":[-9.08,15.09],"nice":false,"zero":false},"axis":{"values":[10,0],"labels":false,"title":null}}}},
  {"data":{"values":[{"v":2.62},{"v":-2.97}]},"mark":{"type":"rule","color":"#111","strokeWidth":1.5,"strokeDash":[6,4]},"encoding":{"y":{"field":"v","type":"quantitative"}}},
  {"data":{"values":[{}]},"mark":{"type":"rule","color":"#111","strokeWidth":1.5,"strokeDash":[6,4]},"encoding":{"x":{"datum":0,"type":"quantitative"}}},
  {"data":{"values":[{}]},"mark":{"type":"rule","color":"#111","strokeWidth":2},"encoding":{"x":{"datum":-0.218,"type":"quantitative"},"y":{"datum":12.7,"type":"quantitative"},"y2":{"datum":-6.3}}}
 ]},
{"width":196,"height":107,
 "layer":[
  {"data":{"name":"Dr"},"mark":{"type":"line","color":"#111","strokeWidth":1.9,"strokeJoin":"round"},
   "encoding":{"x":{"field":"t","type":"quantitative","scale":{"domain":[-0.218,0.733],"nice":false,"zero":false},"axis":null},
   "y":{"field":"v","type":"quantitative","scale":{"domain":[-3.685,4.794],"nice":false,"zero":false},"axis":{"values":[4,2,0,-2],"labels":false,"title":"R TA","titleY":57}}}},
  {"data":{"values":[{"v":4,"s":"4"},{"v":2,"s":"2"},{"v":0,"s":"0"},{"v":-2,"s":"-2"}]},"mark":{"type":"text","align":"right","baseline":"middle","dx":-11,"fontSize":18,"font":"Open Sans","color":"#111"},"encoding":{"x":{"datum":-0.218,"type":"quantitative"},"y":{"field":"v","type":"quantitative"},"text":{"field":"s"}}},
  {"data":{"values":[{"v":2},{"v":-2}]},"mark":{"type":"rule","color":"#111","strokeWidth":1.5,"strokeDash":[6,4]},"encoding":{"y":{"field":"v","type":"quantitative"}}},
  {"data":{"values":[{}]},"mark":{"type":"rule","color":"#111","strokeWidth":1.5,"strokeDash":[6,4]},"encoding":{"x":{"datum":0,"type":"quantitative"}}},
  {"data":{"values":[{}]},"mark":{"type":"rule","color":"#111","strokeWidth":2},"encoding":{"x":{"datum":-0.218,"type":"quantitative"},"y":{"datum":4,"type":"quantitative"},"y2":{"datum":-2}}}
 ]},
{"width":196,"height":107,
 "layer":[
  {"data":{"name":"Ur"},"mark":{"type":"line","color":"#111","strokeWidth":1.9,"strokeJoin":"round"},
   "encoding":{"x":{"field":"t","type":"quantitative","scale":{"domain":[-0.218,0.733],"nice":false,"zero":false},"axis":null},
   "y":{"field":"v","type":"quantitative","scale":{"domain":[-3.68,4.88],"nice":false,"zero":false},"axis":{"values":[4,2,0,-2],"labels":false,"title":null}}}},
  {"data":{"values":[{"v":0.75},{"v":-0.8}]},"mark":{"type":"rule","color":"#111","strokeWidth":1.5,"strokeDash":[6,4]},"encoding":{"y":{"field":"v","type":"quantitative"}}},
  {"data":{"values":[{}]},"mark":{"type":"rule","color":"#111","strokeWidth":1.5,"strokeDash":[6,4]},"encoding":{"x":{"datum":0,"type":"quantitative"}}},
  {"data":{"values":[{}]},"mark":{"type":"rule","color":"#111","strokeWidth":2},"encoding":{"x":{"datum":-0.218,"type":"quantitative"},"y":{"datum":4,"type":"quantitative"},"y2":{"datum":-2}}}
 ]},
{"width":196,"height":107,
 "layer":[
  {"data":{"name":"Ar"},"mark":{"type":"line","color":"#111","strokeWidth":1.9,"strokeJoin":"round"},
   "encoding":{"x":{"field":"t","type":"quantitative","scale":{"domain":[-0.218,0.733],"nice":false,"zero":false},"axis":null},
   "y":{"field":"v","type":"quantitative","scale":{"domain":[-3.68,4.88],"nice":false,"zero":false},"axis":{"values":[4,2,0,-2],"labels":false,"title":null}}}},
  {"data":{"values":[{"v":0.67},{"v":-0.72}]},"mark":{"type":"rule","color":"#111","strokeWidth":1.5,"strokeDash":[6,4]},"encoding":{"y":{"field":"v","type":"quantitative"}}},
  {"data":{"values":[{}]},"mark":{"type":"rule","color":"#111","strokeWidth":1.5,"strokeDash":[6,4]},"encoding":{"x":{"datum":0,"type":"quantitative"}}},
  {"data":{"values":[{}]},"mark":{"type":"rule","color":"#111","strokeWidth":2},"encoding":{"x":{"datum":-0.218,"type":"quantitative"},"y":{"datum":4,"type":"quantitative"},"y2":{"datum":-2}}}
 ]},
{"width":196,"height":95,
 "layer":[
  {"data":{"name":"Dc"},"mark":{"type":"line","color":"#111","strokeWidth":1.9,"strokeJoin":"round"},
   "encoding":{"x":{"field":"t","type":"quantitative","scale":{"domain":[-0.218,0.733],"nice":false,"zero":false},"axis":null},
   "y":{"field":"v","type":"quantitative","scale":{"domain":[-7.057,7.207],"nice":false,"zero":false},"axis":{"values":[5,0,-5],"labelOverlap":false,"title":"L CT","titleY":47}}}},
  {"data":{"values":[{"v":3.8},{"v":-3.85}]},"mark":{"type":"rule","color":"#111","strokeWidth":1.5,"strokeDash":[6,4]},"encoding":{"y":{"field":"v","type":"quantitative"}}},
  {"data":{"values":[{}]},"mark":{"type":"rule","color":"#111","strokeWidth":1.5,"strokeDash":[6,4]},"encoding":{"x":{"datum":0,"type":"quantitative"}}},
  {"data":{"values":[{}]},"mark":{"type":"rule","color":"#111","strokeWidth":2},"encoding":{"x":{"datum":-0.218,"type":"quantitative"},"y":{"datum":5,"type":"quantitative"},"y2":{"datum":-5}}}
 ]},
{"width":196,"height":95,
 "layer":[
  {"data":{"name":"Uc"},"mark":{"type":"line","color":"#111","strokeWidth":1.9,"strokeJoin":"round"},
   "encoding":{"x":{"field":"t","type":"quantitative","scale":{"domain":[-0.218,0.733],"nice":false,"zero":false},"axis":null},
   "y":{"field":"v","type":"quantitative","scale":{"domain":[-7.046,7.196],"nice":false,"zero":false},"axis":{"values":[5,0,-5],"labels":false,"title":null}}}},
  {"data":{"values":[{"v":2.74},{"v":-2.91}]},"mark":{"type":"rule","color":"#111","strokeWidth":1.5,"strokeDash":[6,4]},"encoding":{"y":{"field":"v","type":"quantitative"}}},
  {"data":{"values":[{}]},"mark":{"type":"rule","color":"#111","strokeWidth":1.5,"strokeDash":[6,4]},"encoding":{"x":{"datum":0,"type":"quantitative"}}},
  {"data":{"values":[{}]},"mark":{"type":"rule","color":"#111","strokeWidth":2},"encoding":{"x":{"datum":-0.218,"type":"quantitative"},"y":{"datum":5,"type":"quantitative"},"y2":{"datum":-5}}}
 ]},
{"width":196,"height":95,
 "layer":[
  {"data":{"name":"Ac"},"mark":{"type":"line","color":"#111","strokeWidth":1.9,"strokeJoin":"round"},
   "encoding":{"x":{"field":"t","type":"quantitative","scale":{"domain":[-0.218,0.733],"nice":false,"zero":false},"axis":null},
   "y":{"field":"v","type":"quantitative","scale":{"domain":[-7.046,7.196],"nice":false,"zero":false},"axis":{"values":[5,0,-5],"labels":false,"title":null}}}},
  {"data":{"values":[{"v":1.89},{"v":-2.01}]},"mark":{"type":"rule","color":"#111","strokeWidth":1.5,"strokeDash":[6,4]},"encoding":{"y":{"field":"v","type":"quantitative"}}},
  {"data":{"values":[{}]},"mark":{"type":"rule","color":"#111","strokeWidth":1.5,"strokeDash":[6,4]},"encoding":{"x":{"datum":0,"type":"quantitative"}}},
  {"data":{"values":[{}]},"mark":{"type":"rule","color":"#111","strokeWidth":2},"encoding":{"x":{"datum":-0.218,"type":"quantitative"},"y":{"datum":5,"type":"quantitative"},"y2":{"datum":-5}}}
 ]},
{"width":196,"height":50,
 "layer":[
  {"data":{"name":"Ds"},"mark":{"type":"line","color":"#111","strokeWidth":1.9,"strokeJoin":"round"},
   "encoding":{"x":{"field":"t","type":"quantitative","scale":{"domain":[-0.218,0.733],"nice":false,"zero":false},"axis":{"values":[-0.2,0,0.2,0.4,0.6],"labelOverlap":false,"title":"Sec","titleX":109}},
   "y":{"field":"v","type":"quantitative","scale":{"domain":[0,1],"nice":false,"zero":false},"axis":null}}},
  {"data":{"values":[{}]},"mark":{"type":"rule","color":"#111","strokeWidth":1.5,"strokeDash":[6,4]},"encoding":{"x":{"datum":0,"type":"quantitative"},"y":{"datum":1,"type":"quantitative"},"y2":{"datum":0.72}}},
  {"data":{"values":[{}]},"mark":{"type":"rule","color":"#111","strokeWidth":2},"encoding":{"x":{"datum":-0.21,"type":"quantitative"},"x2":{"datum":0.7},"y":{"datum":0,"type":"quantitative"}}}
 ]},
{"width":196,"height":50,
 "layer":[
  {"data":{"name":"Us"},"mark":{"type":"line","color":"#111","strokeWidth":1.9,"strokeJoin":"round"},
   "encoding":{"x":{"field":"t","type":"quantitative","scale":{"domain":[-0.218,0.733],"nice":false,"zero":false},"axis":{"values":[-0.2,0,0.2,0.4,0.6],"labelOverlap":false,"title":"Sec","titleX":108}},
   "y":{"field":"v","type":"quantitative","scale":{"domain":[0,1],"nice":false,"zero":false},"axis":null}}},
  {"data":{"values":[{}]},"mark":{"type":"rule","color":"#111","strokeWidth":1.5,"strokeDash":[6,4]},"encoding":{"x":{"datum":0,"type":"quantitative"},"y":{"datum":1,"type":"quantitative"},"y2":{"datum":0.72}}},
  {"data":{"values":[{}]},"mark":{"type":"rule","color":"#111","strokeWidth":2},"encoding":{"x":{"datum":-0.21,"type":"quantitative"},"x2":{"datum":0.7},"y":{"datum":0,"type":"quantitative"}}}
 ]},
{"width":196,"height":50,
 "layer":[
  {"data":{"name":"As"},"mark":{"type":"line","color":"#111","strokeWidth":1.9,"strokeJoin":"round"},
   "encoding":{"x":{"field":"t","type":"quantitative","scale":{"domain":[-0.218,0.733],"nice":false,"zero":false},"axis":{"values":[-0.2,0,0.2,0.4,0.6],"labelOverlap":false,"title":"Sec","titleX":95}},
   "y":{"field":"v","type":"quantitative","scale":{"domain":[0,1],"nice":false,"zero":false},"axis":null}}},
  {"data":{"values":[{}]},"mark":{"type":"rule","color":"#111","strokeWidth":1.5,"strokeDash":[6,4]},"encoding":{"x":{"datum":0,"type":"quantitative"},"y":{"datum":1,"type":"quantitative"},"y2":{"datum":0.72}}},
  {"data":{"values":[{}]},"mark":{"type":"rule","color":"#111","strokeWidth":2},"encoding":{"x":{"datum":-0.21,"type":"quantitative"},"x2":{"datum":0.7},"y":{"datum":0,"type":"quantitative"}}}
 ]}
]
}
